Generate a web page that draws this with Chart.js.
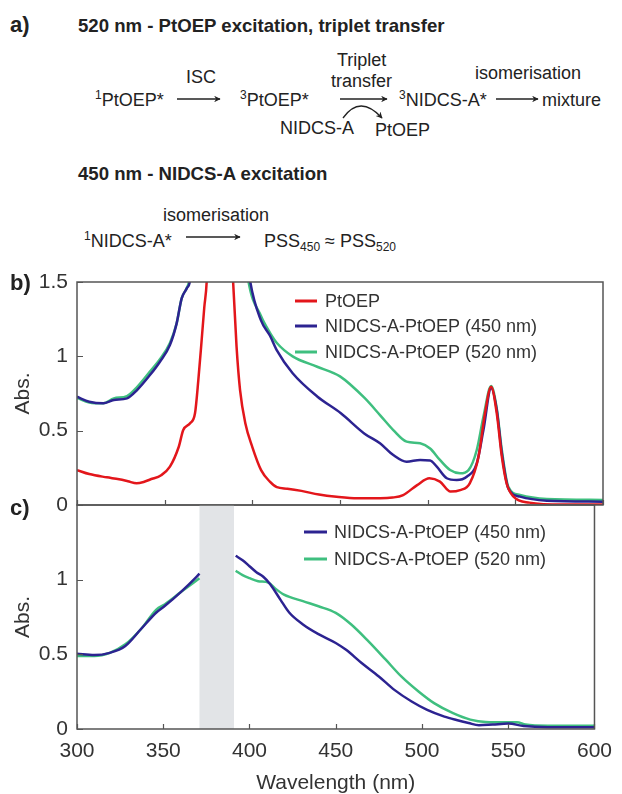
<!DOCTYPE html>
<html>
<head>
<meta charset="utf-8">
<script src="https://cdn.jsdelivr.net/npm/chart.js@4.4.0/dist/chart.umd.min.js"></script>
<style>
body{margin:0;background:#fff;}
#page{position:relative;width:622px;height:794px;overflow:hidden;font-family:"Liberation Sans",Arial,sans-serif;color:#222;}
canvas{position:absolute;left:0;top:0;}
.t{position:absolute;font-size:18px;line-height:18px;white-space:nowrap;}
.b{font-weight:bold;}
.t sup{font-size:12px;vertical-align:7px;line-height:0;}
.t sub{font-size:12px;vertical-align:-4px;line-height:0;}
svg{position:absolute;left:0;top:0;}
</style>
</head>
<body>
<div id="page">
  <div class="t b" style="left:10px;top:14px;font-size:22px;line-height:22px">a)</div>
  <div class="t b" style="left:78px;top:16px;font-size:18.6px;line-height:19px">520 nm - PtOEP excitation, triplet transfer</div>
  <div class="t" style="left:186px;top:68px">ISC</div>
  <div class="t" style="left:95px;top:91px"><sup>1</sup>PtOEP*</div>
  <div class="t" style="left:240px;top:91px"><sup>3</sup>PtOEP*</div>
  <div class="t" style="left:337px;top:51px">Triplet</div>
  <div class="t" style="left:331px;top:72px">transfer</div>
  <div class="t" style="left:280px;top:119px">NIDCS-A</div>
  <div class="t" style="left:375px;top:121px">PtOEP</div>
  <div class="t" style="left:399px;top:91px"><sup>3</sup>NIDCS-A*</div>
  <div class="t" style="left:475px;top:64px">isomerisation</div>
  <div class="t" style="left:542px;top:91px">mixture</div>
  <div class="t b" style="left:78px;top:164px;font-size:18.6px;line-height:19px">450 nm - NIDCS-A excitation</div>
  <div class="t" style="left:163px;top:206px">isomerisation</div>
  <div class="t" style="left:84px;top:232px"><sup>1</sup>NIDCS-A*</div>
  <div class="t" style="left:264px;top:232px">PSS<sub>450</sub> ≈ PSS<sub>520</sub></div>
  <svg width="622" height="300">
    <defs>
      <marker id="ah" viewBox="0 0 10 10" refX="9" refY="5" markerWidth="7" markerHeight="5" orient="auto">
        <path d="M0,0 L10,5 L0,10 L3,5 z" fill="#222"/>
      </marker>
    </defs>
    <g stroke="#222" stroke-width="1.3" fill="none">
      <line x1="177" y1="99" x2="220" y2="99" marker-end="url(#ah)"/>
      <line x1="340" y1="99" x2="387" y2="99" marker-end="url(#ah)"/>
      <line x1="496" y1="99" x2="538" y2="99" marker-end="url(#ah)"/>
      <line x1="186" y1="237" x2="240" y2="237" marker-end="url(#ah)"/>
      <path d="M343,118 Q360,94 382,118" marker-end="url(#ah)"/>
    </g>
  </svg>
  <canvas id="chartB" width="622" height="794"></canvas>
  <canvas id="chartC" width="622" height="794"></canvas>
  <div class="t b" style="left:10px;top:272px;font-size:22px;line-height:22px">b)</div>
  <div class="t b" style="left:10px;top:497px;font-size:22px;line-height:22px">c)</div>
</div>
<script>
// axis ticks
const xTicks = [300, 350, 400, 450, 500, 550, 600];
const yTicksB = [0, 0.5, 1, 1.5];
const yTicksC = [0, 0.5, 1];
const maskBand = [371, 391];   // grey region hiding the excitation scatter in c)

// b) PtOEP
const wlPtOEP = [300,307,317,324,329,334,338,342,348,353,358,360.6,364.5,367.3,369.2,371.1,372.6,374,377,381,385,389,391,393,396,400,405,410,414,420,428,438,448,460,473,480,486,494,501,507,513,518.5,524,529,532.7,536.2,539.4,542.3,545,549,558,577,600];
const absPtOEP = [0.235,0.208,0.186,0.173,0.16,0.146,0.155,0.173,0.2,0.258,0.39,0.504,0.55,0.617,0.84,1.11,1.33,1.51,2.6,3.2,2.6,1.51,1.065,0.773,0.55,0.39,0.235,0.157,0.12,0.11,0.095,0.07,0.055,0.045,0.045,0.05,0.067,0.134,0.18,0.157,0.09,0.1,0.146,0.325,0.617,0.795,0.617,0.325,0.146,0.056,0.016,0.003,0.003];

// b) NIDCS-A-PtOEP after 450 nm
const wl450b = [300,307,315,321,328.5,334,341.6,347.3,353,356.8,359.7,362.6,364.5,370,381,392,398.7,405,410,414,423,437,450.5,464,472.8,480.4,488,495.7,501.4,505.2,510.9,516.6,522.3,528,531.8,536.2,539.4,542.3,546,552.7,568,600];
const abs450b = [0.728,0.695,0.684,0.706,0.717,0.77,0.874,0.964,1.076,1.22,1.39,1.457,1.51,2.2,3.0,2.2,1.51,1.24,1.14,1.04,0.886,0.73,0.617,0.48,0.415,0.336,0.291,0.303,0.3,0.258,0.18,0.168,0.19,0.28,0.504,0.785,0.64,0.348,0.112,0.056,0.029,0.022];

// b) NIDCS-A-PtOEP after 520 nm
const wl520b = [300,307,315,321,328.5,334,341.6,347.3,353,356.8,359.7,362.6,364,370,381,391,397.7,405,410,414,423,437,450,464,472.8,480.4,488,495.7,501.4,507,512.8,518.5,523.3,528,531.8,536.2,539.4,542.3,546,552.7,568,600];
const abs520b = [0.72,0.69,0.684,0.717,0.733,0.79,0.897,0.98,1.09,1.22,1.39,1.46,1.51,2.2,3.0,2.2,1.51,1.27,1.16,1.09,1.0,0.93,0.865,0.72,0.605,0.504,0.426,0.415,0.38,0.303,0.235,0.213,0.235,0.37,0.594,0.8,0.65,0.37,0.123,0.067,0.04,0.034];

// c) NIDCS-A-PtOEP (PtOEP subtracted), null = masked region
const wl450c = [300,310,319,328,337,346,351,360,369,371,381,392,396,400,404,408,412,418,423,431,440,450,456,465,475,484,494,503,513,520,527,533,541,550,559,573,600];
const abs450c = [0.504,0.495,0.51,0.556,0.668,0.78,0.825,0.915,1.015,1.04,null,1.16,1.13,1.09,1.05,1.02,0.97,0.865,0.78,0.7,0.635,0.576,0.53,0.442,0.352,0.262,0.184,0.128,0.083,0.06,0.04,0.025,0.03,0.036,0.02,0.012,0.011];
const wl520c = [300,310,319,328,337,346,351,360,371,381,392,396,400,405,411,415,420,431,440,450,459,469,479,488,498,507,518,528,537,550,555,560,573,600];
const abs520c = [0.489,0.489,0.51,0.567,0.668,0.8,0.836,0.915,1.01,null,1.06,1.03,1.01,0.99,0.98,0.94,0.9,0.856,0.822,0.778,0.7,0.587,0.464,0.352,0.251,0.173,0.106,0.063,0.047,0.045,0.045,0.03,0.022,0.022];

const RED = '#e3161b', BLUE = '#2c2391', GREEN = '#3fbf7f';
const TXT = '#333';

function pts(xs, ys){ return xs.map((x, i) => ({x: x, y: ys[i]})); }

function series(label, xs, ys, color){
    return {label: label, data: pts(xs, ys), borderColor: color, backgroundColor: color,
            borderWidth: 2.5, pointRadius: 0, cubicInterpolationMode: 'monotone', spanGaps: false};
}

// frame, inward ticks, grey band and in-axes legend
const framePlugin = {
    id: 'frame',
    beforeDatasetsDraw(chart, args, o){
        if(!o.band) return;
        const a = chart.chartArea, x = chart.scales.x, ctx = chart.ctx;
        const x0 = x.getPixelForValue(o.band[0]), x1 = x.getPixelForValue(o.band[1]);
        ctx.save();
        ctx.fillStyle = '#e2e4e7';
        ctx.fillRect(x0, a.top, x1 - x0, a.bottom - a.top);
        ctx.restore();
    },
    afterDatasetsDraw(chart, args, o){
        const a = chart.chartArea, ctx = chart.ctx;
        const x = chart.scales.x, y = chart.scales.y;
        ctx.save();
        ctx.strokeStyle = '#555';
        ctx.lineWidth = 1.5;
        ctx.strokeRect(a.left, a.top, a.right - a.left, a.bottom - a.top);
        ctx.lineWidth = 1.2;
        ctx.beginPath();
        x.ticks.forEach(t => {
            const px = Math.round(x.getPixelForValue(t.value)) + 0.5;
            ctx.moveTo(px, a.bottom); ctx.lineTo(px, a.bottom - 5);
        });
        y.ticks.forEach(t => {
            const py = Math.round(y.getPixelForValue(t.value)) + 0.5;
            ctx.moveTo(a.left, py); ctx.lineTo(a.left + 6, py);
        });
        ctx.stroke();

        const lg = o.legend;
        ctx.font = '18px "Liberation Sans", Arial, sans-serif';
        ctx.textBaseline = 'middle';
        chart.data.datasets.forEach((ds, i) => {
            const yy = lg.rows[i];
            ctx.strokeStyle = ds.borderColor;
            ctx.lineWidth = 3;
            ctx.beginPath(); ctx.moveTo(lg.x0, yy); ctx.lineTo(lg.x1, yy); ctx.stroke();
            ctx.fillStyle = TXT;
            ctx.fillText(ds.label, lg.textX, yy + 1);
        });
        ctx.restore();
    }
};

function makePanel(canvasId, datasets, yTicks, top, bottom, showX, extra){
    const tickFont = {family: '"Liberation Sans", Arial, sans-serif', size: 21};
    return new Chart(document.getElementById(canvasId), {
        type: 'line',
        data: {datasets: datasets},
        options: {
            responsive: false,
            animation: false,
            layout: {padding: {top: top, left: 0, right: 19, bottom: 0}},
            plugins: {
                legend: {display: false},
                tooltip: {enabled: false},
                frame: extra
            },
            scales: {
                x: {
                    type: 'linear', min: 300, max: 600,
                    afterBuildTicks: s => { s.ticks = xTicks.map(v => ({value: v})); },
                    afterFit: s => { s.height = 794 - bottom; },
                    grid: {display: false, drawTicks: false},
                    border: {display: false},
                    ticks: {display: showX, padding: 10, color: TXT, font: tickFont, maxRotation: 0},
                    title: {display: showX, text: 'Wavelength (nm)', color: TXT,
                            font: {family: tickFont.family, size: 21, lineHeight: 1}, padding: {top: 0, bottom: 0}}
                },
                y: {
                    min: 0, max: 1.5,
                    afterBuildTicks: s => { s.ticks = yTicks.map(v => ({value: v})); },
                    afterFit: s => { s.width = 77; },
                    grid: {display: false, drawTicks: false},
                    border: {display: false},
                    ticks: {padding: 9, color: TXT, font: tickFont, callback: v => String(v)},
                    title: {display: true, text: 'Abs.', color: TXT,
                            font: {family: tickFont.family, size: 21, lineHeight: 1}, padding: {top: 13, bottom: 0}}
                }
            }
        },
        plugins: [framePlugin]
    });
}

makePanel('chartB', [
    series('PtOEP', wlPtOEP, absPtOEP, RED),
    series('NIDCS-A-PtOEP (450 nm)', wl450b, abs450b, BLUE),
    series('NIDCS-A-PtOEP (520 nm)', wl520b, abs520b, GREEN)
], yTicksB, 282, 505, false, {legend: {x0: 295, x1: 317, textX: 325, rows: [301, 326, 352]}});

makePanel('chartC', [
    series('NIDCS-A-PtOEP (450 nm)', wl450c, abs450c, BLUE),
    series('NIDCS-A-PtOEP (520 nm)', wl520c, abs520c, GREEN)
], yTicksC, 505, 729, true, {band: maskBand, legend: {x0: 304, x1: 327, textX: 334, rows: [532, 559]}});
</script>
</body>
</html>
